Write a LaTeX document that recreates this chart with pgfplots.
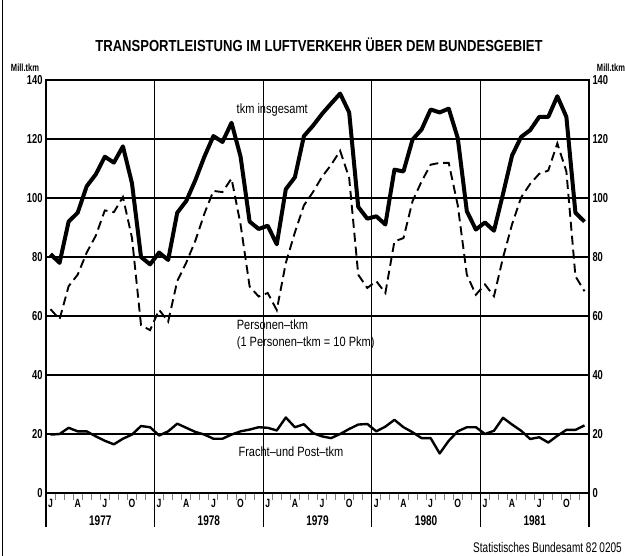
\documentclass[border=0pt]{standalone}
\usepackage{fontspec}
\setmainfont{Liberation Sans}[FakeStretch=0.82]
\newfontfamily\tickfont{Liberation Sans}[FakeStretch=0.72]
\usepackage{pgfplots}
\usepackage{pgfplotstable}
\pgfplotsset{compat=1.18}

\pgfplotstableread{
x tot pers fracht
0.5 81 62.3 19.8
1.5 78 58.9 20
2.5 92 70.1 22.1
3.5 95 74 20.9
4.5 104 81.5 20.9
5.5 108 87.2 19.2
6.5 114 95.8 17.7
7.5 112 95.2 16.5
8.5 117.5 100.3 18.4
9.5 105 86.5 19.8
10.5 80 56.9 22.7
11.5 77.5 55.2 22.3
12.5 81.5 62.1 19.5
13.5 79 58.1 20.9
14.5 95 71.8 23.5
15.5 99 78.1 22.1
16.5 106 85.5 20.7
17.5 114 94.7 19.8
18.5 121 102.4 18.4
19.5 119 102 18.4
20.5 125.5 106.6 19.8
21.5 114 91 20.9
22.5 92 70 21.5
23.5 89.5 66.6 22.3
24.5 90.6 67.8 22.1
25.5 84.3 62 21.2
26.5 103 78 25.6
27.5 107 88.3 22.3
28.5 121 97.5 23.3
29.5 124.5 102 20.3
30.5 128.5 107.2 19.2
31.5 132 111.2 18.6
32.5 135.4 116 20
33.5 129 106.8 21.7
34.5 97 74 23.2
35.5 93 69.5 23.4
36.5 93.8 71.8 20.9
37.5 91 67.8 22.5
38.5 109.6 85.3 24.8
39.5 109 86.4 22.3
40.5 119.8 98.9 20.6
41.5 123.2 105.6 18.6
42.5 130 111.3 18.6
43.5 129 111.9 13.4
44.5 130.3 111.9 17.7
45.5 120.3 97.5 20.9
46.5 95.5 74 22.3
47.5 89.3 67.2 22.3
48.5 91.7 70.7 20
49.5 88.9 66.7 21.1
50.5 101.4 79.8 25.5
51.5 114.4 91.1 23.2
52.5 120.7 100.2 21.1
53.5 123 104.8 18.3
54.5 127.5 108.2 18.9
55.5 127.5 109.3 17.1
56.5 134.5 118.5 19.4
57.5 127.5 109 21.4
58.5 95 73.5 21.4
59.5 92 68.4 22.9
}\data

\newcommand\tk{\tickfont\bfseries\fontsize{13}{13}\selectfont}

\begin{document}
\begin{tikzpicture}
\path[use as bounding box] (0,0) rectangle (625bp,556bp);
\draw[line width=1.5bp] (2.5bp,0) -- (2.5bp,556bp);
\begin{axis}[
  at={(46bp,63bp)}, anchor=south west,
  scale only axis, width=543bp, height=413bp,
  xmin=0, xmax=60, ymin=0, ymax=140,
  clip=false,
  axis line style={line width=1.3bp},
  ytick={0,20,...,140},
  ymajorgrids, grid style={black, line width=1.1bp},
  y tick style={draw=none},
  yticklabel style={font=\tk, anchor=east, xshift=0bp},
  /pgf/number format/assume math mode=true,
  xtick={0.5,3.5,...,59.5},
  xticklabels={J,A,J,O,J,A,J,O,J,A,J,O,J,A,J,O,J,A,J,O},
  minor xtick={1,...,59},
  xtick pos=bottom,
  tick align=outside,
  major tick length=0bp,
  minor tick length=7bp,
  minor x tick style={line width=1bp},
  xticklabel style={font=\tk\fontsize{12}{12}\selectfont, anchor=north, yshift=-3bp},
]
\addplot[black, line width=4bp, line join=round] table[x=x, y=tot] {\data};
\addplot[black, line width=1.9bp, dash pattern=on 9bp off 5bp] table[x=x, y=pers] {\data};
\addplot[black, line width=2.4bp, line join=round] table[x=x, y=fracht] {\data};
\draw[line width=2.2bp] (axis cs:0,0) -- (axis cs:60,0);
\pgfplotsinvokeforeach{0,12,24,36,48,60}{
  \draw[line width=1.3bp] (axis cs:#1,140) -- ([yshift=-34bp]axis cs:#1,0);
}
\node[font=\tk\fontsize{14}{14}\selectfont] at ([yshift=-28bp]axis cs:6,0) {1977};
\node[font=\tk\fontsize{14}{14}\selectfont] at ([yshift=-28bp]axis cs:18,0) {1978};
\node[font=\tk\fontsize{14}{14}\selectfont] at ([yshift=-28bp]axis cs:30,0) {1979};
\node[font=\tk\fontsize{14}{14}\selectfont] at ([yshift=-28bp]axis cs:42,0) {1980};
\node[font=\tk\fontsize{14}{14}\selectfont] at ([yshift=-28bp]axis cs:54,0) {1981};
\node[font=\fontsize{13.5}{13.5}\selectfont] at (axis cs:25,129.8) {tkm insgesamt};
\node[font=\fontsize{13.5}{13.5}\selectfont, anchor=west, inner sep=0pt] at (axis cs:21.07,56.9) {Personen--tkm};
\node[font=\fontsize{13.5}{13.5}\selectfont, anchor=west, inner sep=0pt] at (axis cs:21.07,50.8) {(1 Personen--tkm = 10 Pkm)};
\node[font=\fontsize{13.5}{13.5}\selectfont, anchor=west, inner sep=0pt] at (axis cs:21.25,14.0) {Fracht--und Post--tkm};
\end{axis}
\begin{axis}[
  at={(46bp,63bp)}, anchor=south west,
  scale only axis, width=543bp, height=413bp,
  xmin=0, xmax=60, ymin=0, ymax=140,
  axis x line=none, axis y line*=right,
  axis line style={draw=none},
  ytick={0,20,...,140},
  y tick style={draw=none},
  yticklabel style={font=\tk, anchor=west},
  /pgf/number format/assume math mode=true,
]
\addplot[draw=none] coordinates {(0,0)};
\end{axis}
\node[font=\bfseries\fontsize{16}{16}\selectfont] at (319bp,511bp) {TRANSPORTLEISTUNG IM LUFTVERKEHR ÜBER DEM BUNDESGEBIET};
\node[font=\tk\fontsize{10.5}{10.5}\selectfont] at (25bp,488bp) {Mill.tkm};
\node[font=\tk\fontsize{10.5}{10.5}\selectfont] at (611bp,488bp) {Mill.tkm};
\node[font=\tickfont\fontsize{14}{14}\selectfont, anchor=east, inner sep=0pt] at (622bp,8bp) {Statistisches Bundesamt 82\,0205};
\end{tikzpicture}
\end{document}
